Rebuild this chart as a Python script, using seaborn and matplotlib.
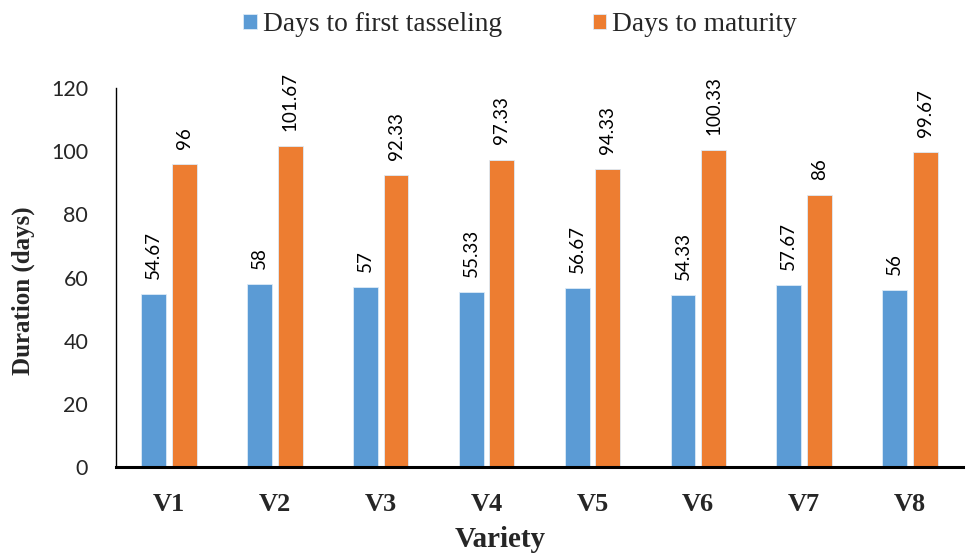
import matplotlib
matplotlib.use("Agg")
import matplotlib.pyplot as plt
import seaborn as sns
import pandas as pd

varieties = ["V1", "V2", "V3", "V4", "V5", "V6", "V7", "V8"]
tasseling = [54.67, 58, 57, 55.33, 56.67, 54.33, 57.67, 56]
maturity = [96, 101.67, 92.33, 97.33, 94.33, 100.33, 86, 99.67]
tasseling_labels = ["54.67", "58", "57", "55.33", "56.67", "54.33", "57.67", "56"]
maturity_labels = ["96", "101.67", "92.33", "97.33", "94.33", "100.33", "86", "99.67"]
series_names = ["Days to first tasseling", "Days to maturity"]
y_ticks = [0, 20, 40, 60, 80, 100, 120]

df = pd.DataFrame({
    "Variety": varieties * 2,
    "Days": tasseling + maturity,
    "Series": [series_names[0]] * len(varieties) + [series_names[1]] * len(varieties),
})

sns.set_theme(style="white")
plt.rcParams["font.family"] = ["Lato", "DejaVu Sans"]

fig = plt.figure(figsize=(9.66, 5.54), dpi=100)
ax = fig.add_axes([116 / 966, 87 / 554, (963 - 116) / 966, (467 - 88) / 554])

palette = {series_names[0]: "#5B9BD5", series_names[1]: "#ED7D31"}
sns.barplot(data=df, x="Variety", y="Days", hue="Series", order=varieties,
            hue_order=series_names, palette=palette, width=0.58, gap=0.19,
            saturation=1, edgecolor="#DDEBF7", linewidth=0.6, ax=ax)

for cont, labs in zip(ax.containers, [tasseling_labels, maturity_labels]):
    ax.bar_label(cont, labels=labs, rotation=90, padding=11, fontsize=13.5,
                 family=["Lato", "DejaVu Sans"], color="black")

ax.set_ylim(0, 120)
ax.set_yticks(y_ticks)
ax.tick_params(axis="y", length=0, pad=20, labelsize=15.5)
ax.tick_params(axis="x", length=0, pad=19)
for lab in ax.get_xticklabels():
    lab.set_fontfamily("Liberation Serif")
    lab.set_fontweight("bold")
    lab.set_fontsize(19)

ax.set_xlabel("Variety", fontfamily="Liberation Serif", fontweight="bold",
              fontsize=21)
ax.xaxis.set_label_coords((500 - 116) / 847, (467 - 526) / 379)
ax.set_ylabel("Duration (days)", fontfamily="Liberation Serif", fontweight="bold",
              fontsize=18)
ax.yaxis.set_label_coords((35 - 116) / 847, (467 - 291) / 379)

for s in ["top", "right"]:
    ax.spines[s].set_visible(False)
ax.spines["left"].set_color("black")
ax.spines["left"].set_linewidth(1.0)
ax.spines["bottom"].set_color("black")
ax.spines["bottom"].set_linewidth(2.2)

handles, labels = ax.get_legend_handles_labels()
ax.legend(handles, labels, loc="upper center", bbox_to_anchor=(520 / 966, 1.0),
          bbox_transform=fig.transFigure, ncol=2, frameon=False,
          prop={"family": "Liberation Serif", "size": 19.8},
          handlelength=0.5, handleheight=0.5, handletextpad=0.22,
          columnspacing=3.3, borderaxespad=0.05)

fig.savefig("out.png", dpi=100)
